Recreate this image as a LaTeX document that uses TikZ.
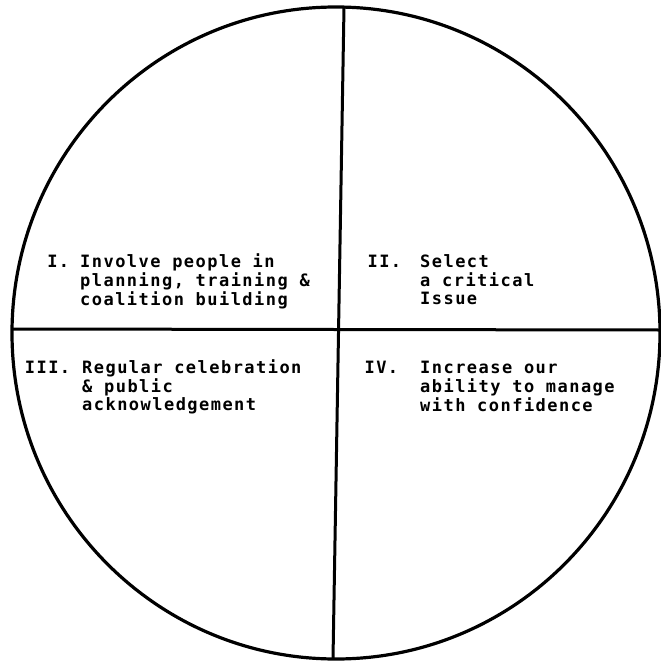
\documentclass[tikz,border=0pt]{standalone}
\usepackage{fontspec}
\newfontfamily\typefont{DejaVu Sans Mono Bold}[LetterSpace=8.6]
\usetikzlibrary{shapes.geometric}

\begin{document}
\begin{tikzpicture}[x=1pt, y=-1pt,
  ring/.style={ellipse, draw, line width=3.2pt, minimum width=648pt,
               minimum height=652pt, inner sep=0pt},
  divider/.style={line width=3pt},
  entry/.style={anchor=base west, inner sep=0pt,
                font=\typefont\fontsize{17}{18}\selectfont},
]
  \useasboundingbox (0,0) rectangle (661,661);

  \node[ring] (ring) at (336,333) {};

  \coordinate (top) at (344,7);
  \coordinate (bottom) at (333,659);
  \coordinate (left) at (12,329);
  \coordinate (right) at (660,330);
  \draw[divider] (top) -- (bottom);
  \draw[divider] (left) -- (right);

  % quadrants, numeral hung to the left of the first line
  \node[entry] (q1) at (80,267) {\begin{tabular}[t]{@{}l@{}}
    \llap{I.\hspace{11pt}}Involve people in\\planning, training \&\\coalition building\end{tabular}};
  \node[entry] (q2) at (420,267) {\begin{tabular}[t]{@{}l@{}}
    \llap{II.\hspace{19pt}}Select\\a critical\\Issue\end{tabular}};
  \node[entry] (q3) at (82,373) {\begin{tabular}[t]{@{}l@{}}
    \llap{III.\hspace{12pt}}Regular celebration\\\& public\\acknowledgement\end{tabular}};
  \node[entry] (q4) at (420,373) {\begin{tabular}[t]{@{}l@{}}
    \llap{IV.\hspace{22pt}}Increase our\\ability to manage\\with confidence\end{tabular}};
\end{tikzpicture}
\end{document}
